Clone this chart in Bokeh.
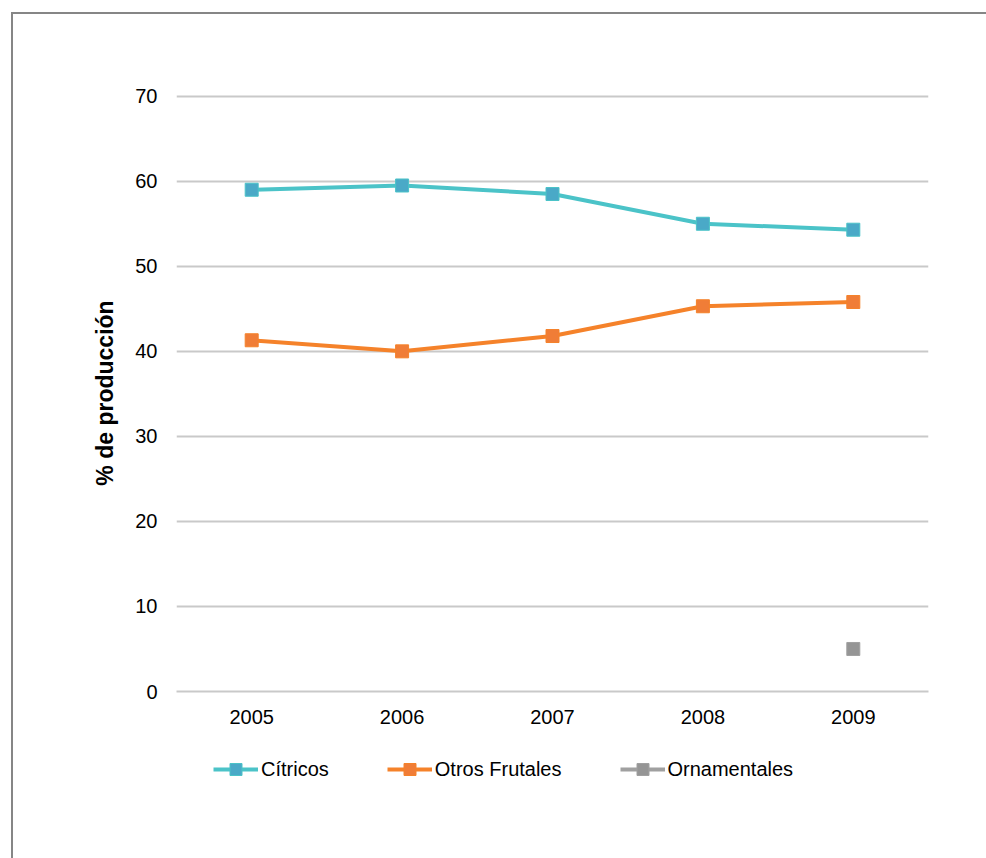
from bokeh.plotting import figure
from bokeh.layouts import column
from bokeh.models import ColumnDataSource, Legend, LegendItem, FixedTicker, Range1d
from bokeh.embed import file_html
from bokeh.resources import INLINE

# Share of production by year (%)
years = ["2005", "2006", "2007", "2008", "2009"]
citricos = [59.0, 59.5, 58.5, 55.0, 54.3]
otros_frutales = [41.3, 40.0, 41.8, 45.3, 45.8]
orn_years = ["2009"]
ornamentales = [5.0]
y_ticks = [0, 10, 20, 30, 40, 50, 60, 70]

FONT = "Liberation Sans"
CIT_LINE, CIT_MARK = "#4bc3c8", "#4aa9c7"
OTR_LINE, OTR_MARK = "#f5822a", "#f07d37"
ORN_LINE, ORN_MARK = "#a0a0a0", "#959595"

W = 973
H_MAIN = 731
H_LEG = 113

src_c = ColumnDataSource(dict(x=years, y=citricos))
src_o = ColumnDataSource(dict(x=years, y=otros_frutales))
src_n = ColumnDataSource(dict(x=orn_years, y=ornamentales))


def add_series(fig, src, line_color, mark_color):
    ln = fig.line("x", "y", source=src, line_color=line_color, line_width=4)
    mk = fig.scatter("x", "y", source=src, marker="square", size=13,
                     fill_color=mark_color, line_color=line_color, line_width=1)
    return ln, mk


# ---- main chart ----
p = figure(
    x_range=years, y_range=(0, 70.2),
    width=W, height=H_MAIN,
    min_border_left=163, min_border_right=58,
    min_border_top=80, min_border_bottom=54,
    output_backend="svg", toolbar_location=None,
    background_fill_color="white", border_fill_color="white",
)
p.outline_line_color = None

add_series(p, src_c, CIT_LINE, CIT_MARK)
add_series(p, src_o, OTR_LINE, OTR_MARK)
add_series(p, src_n, ORN_LINE, ORN_MARK)

p.xgrid.grid_line_color = None
p.ygrid.grid_line_color = "#c9c9c9"
p.ygrid.grid_line_width = 2

p.yaxis.ticker = FixedTicker(ticks=y_ticks)
p.yaxis.axis_line_color = None
p.yaxis.major_tick_line_color = None
p.yaxis.major_tick_out = 0
p.yaxis.minor_tick_line_color = None
p.yaxis.minor_tick_out = 0
p.yaxis.major_label_standoff = 19
p.yaxis.major_label_text_font = FONT
p.yaxis.major_label_text_font_size = "20px"
p.yaxis.major_label_text_color = "#000000"
p.yaxis.axis_label = "% de producción"
p.yaxis.axis_label_text_font = FONT
p.yaxis.axis_label_text_font_size = "23px"
p.yaxis.axis_label_text_font_style = "bold"
p.yaxis.axis_label_text_color = "#000000"
p.yaxis.axis_label_standoff = 14

p.xaxis.axis_line_color = "#c9c9c9"
p.xaxis.axis_line_width = 2
p.xaxis.major_tick_line_color = None
p.xaxis.major_tick_out = 0
p.xaxis.minor_tick_line_color = None
p.xaxis.minor_tick_out = 0
p.xaxis.major_label_standoff = 18
p.xaxis.major_label_text_font = FONT
p.xaxis.major_label_text_font_size = "20px"
p.xaxis.major_label_text_color = "#000000"

# ---- legend strip (series drawn out of view, used for the key only) ----
leg = figure(
    x_range=years, y_range=Range1d(1000, 1001),
    width=W, height=H_LEG,
    min_border=0,
    x_axis_location=None, y_axis_location=None,
    output_backend="svg", toolbar_location=None,
    background_fill_color="white", border_fill_color="white",
)
leg.outline_line_color = None
leg.grid.grid_line_color = None

lc, mc = add_series(leg, src_c, CIT_LINE, CIT_MARK)
lo, mo = add_series(leg, src_o, OTR_LINE, OTR_MARK)
ln, mn = add_series(leg, src_n, ORN_LINE, ORN_MARK)

legend = Legend(
    items=[
        LegendItem(label="Cítricos", renderers=[lc, mc]),
        LegendItem(label="Otros Frutales", renderers=[lo, mo]),
        LegendItem(label="Ornamentales", renderers=[ln, mn]),
    ],
    orientation="horizontal",
    location=(37, 74),
    glyph_width=45, glyph_height=30,
    label_standoff=3, spacing=58,
    padding=0, margin=0,
    border_line_color=None, background_fill_alpha=0,
    label_text_font=FONT, label_text_font_size="20px",
    label_text_color="#000000",
)
leg.add_layout(legend, "center")

# chart frame: only the top and left edges fall inside the page
layout = column(
    p, leg, spacing=0,
    margin=(12, 0, 0, 11),
    styles={
        "border-top": "2px solid #868686",
        "border-left": "2px solid #868686",
    },
)

open("out.html", "w").write(file_html(layout, INLINE))
